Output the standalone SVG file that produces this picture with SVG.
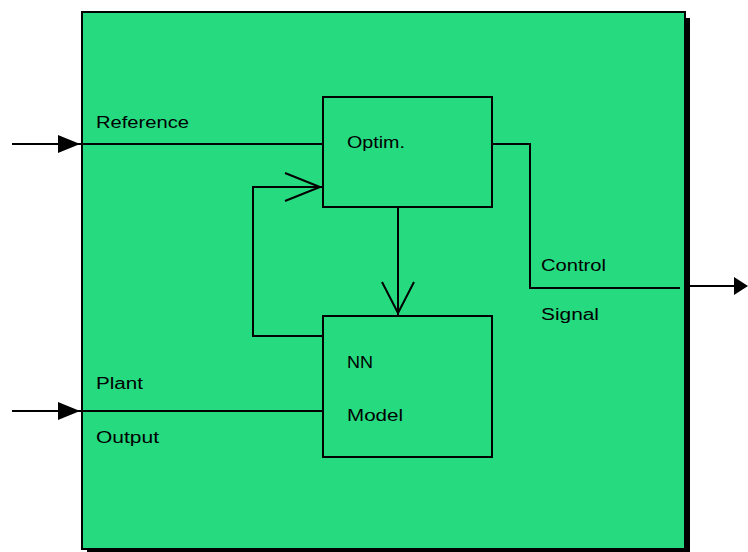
<svg xmlns="http://www.w3.org/2000/svg" width="748" height="552" viewBox="0 0 748 552">
<defs>
<style>
.ln{fill:none;stroke:#000;stroke-width:2}
.box{fill:#26DA80;stroke:#000;stroke-width:2}
.t{font-family:"Liberation Sans",Arial,sans-serif;font-size:16px;fill:#000}
</style>
<marker id="fa" markerWidth="20" markerHeight="20" refX="19" refY="9" orient="auto" markerUnits="userSpaceOnUse">
<path d="M1,1 L19,9 L1,17 Z" fill="#000"/>
</marker>
</defs>
<rect width="748" height="552" fill="#fff"/>
<g id="container">
<rect x="87" y="18" width="603" height="537" fill="#000"/>
<rect x="82" y="12" width="603" height="537" class="box" stroke-width="1.5"/>
</g>
<g id="optim">
<rect x="323" y="97" width="169" height="110" class="box"/>
<text class="t" x="347" y="148" textLength="58" lengthAdjust="spacingAndGlyphs">Optim.</text>
</g>
<g id="nnmodel">
<rect x="323" y="316" width="169" height="141" class="box"/>
<text class="t" x="347" y="368" textLength="26" lengthAdjust="spacingAndGlyphs">NN</text>
<text class="t" x="347" y="421" textLength="56" lengthAdjust="spacingAndGlyphs">Model</text>
</g>
<g id="connectors">
<path class="ln" d="M12,144 H323" />
<path d="M58,135 L80,144 L58,153 Z" fill="#000"/>
<path class="ln" d="M12,411 H323" />
<path d="M58,402 L80,411 L58,420 Z" fill="#000"/>
<path class="ln" d="M492,144 H530 V288 H680" />
<path class="ln" d="M685,286 H738" />
<path d="M734,277 L748,286 L734,295 Z" fill="#000"/>
<path class="ln" d="M323,336 H253 V187 H322" />
<path class="ln" stroke-width="1.5" d="M285,173 L320,187 L285,201" />
<path class="ln" d="M398,207 V316" />
<path class="ln" stroke-width="1.5" d="M382,282 L398,313 L414,282" />
</g>
<g id="labels">
<text class="t" x="96" y="128" textLength="93" lengthAdjust="spacingAndGlyphs">Reference</text>
<text class="t" x="96" y="389" textLength="47" lengthAdjust="spacingAndGlyphs">Plant</text>
<text class="t" x="96" y="443" textLength="63" lengthAdjust="spacingAndGlyphs">Output</text>
<text class="t" x="541" y="271" textLength="65" lengthAdjust="spacingAndGlyphs">Control</text>
<text class="t" x="541" y="320" textLength="58" lengthAdjust="spacingAndGlyphs">Signal</text>
</g>
</svg>
